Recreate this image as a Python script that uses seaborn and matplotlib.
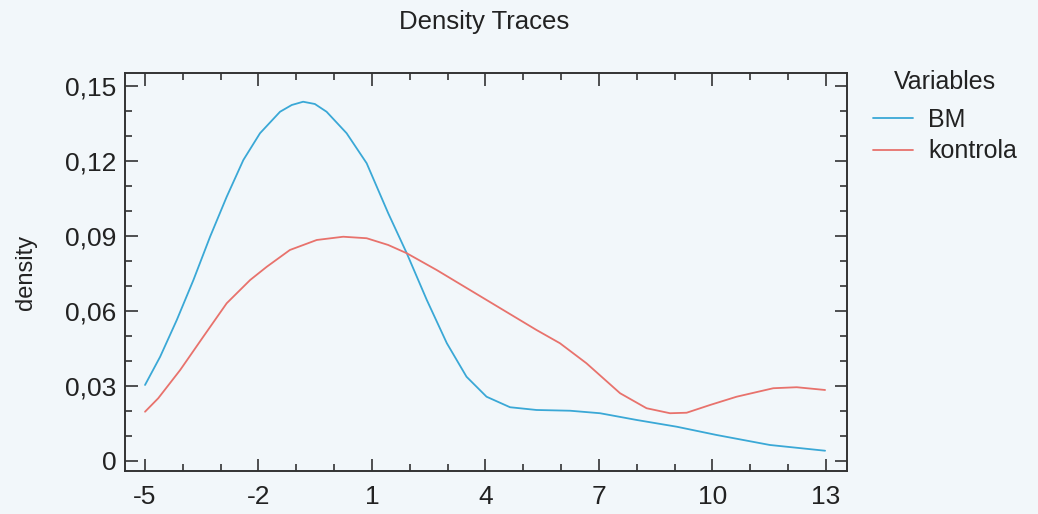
import numpy as np
import pandas as pd
import matplotlib
matplotlib.use("Agg")
import matplotlib.pyplot as plt
import seaborn as sns
from matplotlib.ticker import MultipleLocator
from matplotlib.lines import Line2D

# ---- data ----
bm_x = [-5.0, -4.60, -4.16, -3.72, -3.28, -2.84, -2.40, -1.96, -1.43, -1.12, -0.82, -0.51, -0.20,
        0.33, 0.86, 1.43, 1.92, 2.45, 2.98, 3.50, 4.03, 4.65, 5.35, 6.24, 7.03, 8.0, 9.06,
        10.11, 11.52, 12.98]
bm_y = [0.0304, 0.0417, 0.0564, 0.0724, 0.0897, 0.1057, 0.1204, 0.1311, 0.1397, 0.1424, 0.1437,
        0.1428, 0.1397, 0.1311, 0.1191, 0.0991, 0.0831, 0.0644, 0.0471, 0.0337, 0.0257, 0.0215,
        0.0204, 0.0201, 0.0191, 0.0164, 0.0137, 0.0104, 0.0064, 0.0041]

ko_x = [-5.0, -4.65, -4.07, -3.46, -2.84, -2.22, -1.78, -1.17, -0.46, 0.24, 0.86, 1.43, 1.92,
        2.71, 3.59, 4.47, 5.35, 5.97, 6.67, 7.56, 8.26, 8.88, 9.32, 9.94, 10.64, 11.61, 12.23,
        12.98]
ko_y = [0.0197, 0.0251, 0.0364, 0.0497, 0.0631, 0.0724, 0.0777, 0.0844, 0.0884, 0.0897, 0.0891,
        0.0864, 0.0831, 0.0764, 0.0684, 0.0604, 0.0524, 0.0471, 0.0391, 0.0271, 0.0211, 0.0191,
        0.0193, 0.0224, 0.0257, 0.0291, 0.0295, 0.0284]

series_names = ["BM", "kontrola"]
x_ticks = [-5, -2, 1, 4, 7, 10, 13]
x_tick_labels = ["-5", "-2", "1", "4", "7", "10", "13"]
y_ticks = [0, 0.03, 0.06, 0.09, 0.12, 0.15]
y_tick_labels = ["0", "0,03", "0,06", "0,09", "0,12", "0,15"]

df = pd.concat([
    pd.DataFrame({"x": bm_x, "density": bm_y, "Variables": series_names[0]}),
    pd.DataFrame({"x": ko_x, "density": ko_y, "Variables": series_names[1]}),
], ignore_index=True)

bg = "#f2f7fa"
sns.set_theme(style="ticks")
plt.rcParams["font.family"] = ["Liberation Sans", "DejaVu Sans"]
text_color = "#222222"

fig = plt.figure(figsize=(10.38, 5.14), dpi=100, facecolor=bg)
ax = fig.add_axes([0.1204, 0.0837, 0.6956, 0.7743])
ax.set_facecolor(bg)

palette = {"BM": "#3aa8d6", "kontrola": "#e8726c"}
sns.lineplot(data=df, x="x", y="density", hue="Variables", palette=palette,
             ax=ax, linewidth=1.3, sort=False, estimator=None, legend=False)
for ln in ax.get_lines():
    ln.set_solid_joinstyle("round")

ax.set_xlim(-5.53, 13.56)
ax.set_ylim(-0.004, 0.1552)
ax.set_xticks(x_ticks)
ax.set_xticklabels(x_tick_labels)
ax.set_yticks(y_ticks)
ax.set_yticklabels(y_tick_labels)
ax.xaxis.set_minor_locator(MultipleLocator(1))
ax.yaxis.set_minor_locator(MultipleLocator(0.01))

for s in ax.spines.values():
    s.set_color("#333333")
    s.set_linewidth(1.4)
ax.tick_params(which="both", direction="in", top=True, right=True,
               color="#333333", width=1.2, labelcolor=text_color, labelsize=19)
ax.tick_params(which="major", length=9)
ax.tick_params(which="minor", length=5)
ax.tick_params(axis="x", pad=10)
ax.tick_params(axis="y", pad=6)

ax.set_xlabel("")
ax.set_ylabel("density", fontsize=17, color=text_color, labelpad=20)
fig.text(0.466, 0.957, "Density Traces", ha="center", va="center",
         fontsize=18.5, color=text_color)

handles = [Line2D([], [], color=palette[n], linewidth=1.3) for n in series_names]
leg = fig.legend(handles, series_names, title="Variables", loc="upper left",
                 bbox_to_anchor=(873 / 1038, 1 - 70 / 514), frameon=False, fontsize=18,
                 title_fontsize=18, handlelength=1.6, handletextpad=0.6,
                 labelspacing=0.3, borderpad=0, borderaxespad=0)
leg._legend_box.sep = 10
for t in leg.get_texts():
    t.set_color(text_color)
leg.get_title().set_color(text_color)

fig.savefig("out.png", dpi=100, facecolor=bg)
